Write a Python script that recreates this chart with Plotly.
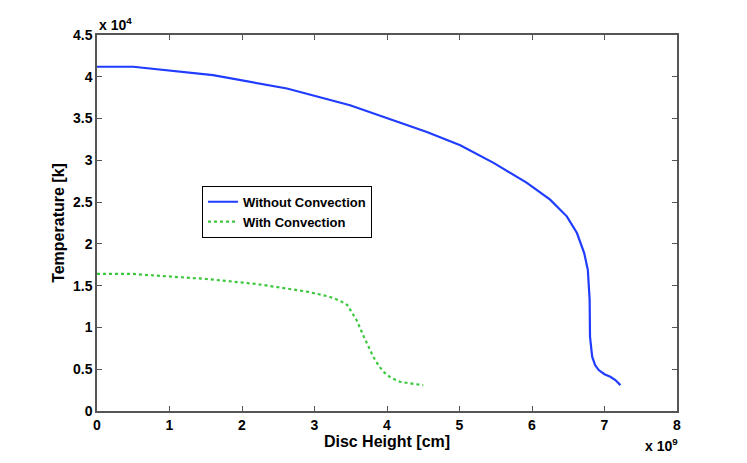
import plotly.graph_objects as go

# disc height in units of 1e9 cm, temperature in units of 1e4 K
height_no_conv = [0.0, 0.5, 1.6, 2.62, 3.49, 4.09, 4.55, 5.01, 5.47, 5.93, 6.25,
                  6.48, 6.62, 6.72, 6.77, 6.795, 6.80, 6.83, 6.87, 6.92, 7.0, 7.08, 7.15, 7.22]
temp_no_conv = [4.12, 4.12, 4.02, 3.86, 3.66, 3.48, 3.34, 3.18, 2.97, 2.73, 2.53,
                2.33, 2.13, 1.89, 1.69, 1.33, 0.89, 0.65, 0.55, 0.49, 0.44, 0.41, 0.37, 0.31]

height_conv = [0.0, 0.5, 0.82, 1.51, 2.20, 2.89, 3.2, 3.35, 3.45, 3.52, 3.58, 3.68, 3.81,
               3.88, 3.95, 4.05, 4.18, 4.32, 4.50]
temp_conv = [1.64, 1.64, 1.62, 1.58, 1.52, 1.43, 1.37, 1.32, 1.27, 1.18, 1.09, 0.89, 0.65,
             0.55, 0.47, 0.40, 0.35, 0.33, 0.31]

x_ticks = [0, 1, 2, 3, 4, 5, 6, 7, 8]
y_ticks = [0, 0.5, 1, 1.5, 2, 2.5, 3, 3.5, 4, 4.5]
y_labels = ["0", "0.5", "1", "1.5", "2", "2.5", "3", "3.5", "4", "4.5"]

font_bold = dict(family="Liberation Sans, Arial, sans-serif", size=14, color="black", weight="bold")

fig = go.Figure()
fig.add_trace(go.Scatter(x=height_no_conv, y=temp_no_conv, mode="lines", name="Without Convection",
                         line=dict(color="#1f3cff", width=2.2)))
fig.add_trace(go.Scatter(x=height_conv, y=temp_conv, mode="lines", name="With Convection",
                         line=dict(color="#3cc83c", width=2.2, dash="dot")))

axis_common = dict(showline=True, linecolor="#555", linewidth=1.5, mirror="allticks",
                   ticks="inside", ticklen=5, tickcolor="#555", showgrid=False, zeroline=False,
                   tickfont=font_bold, automargin=False)

fig.update_xaxes(range=[0, 8], tickvals=x_ticks,
                 title=dict(text="Disc Height [cm]", font=dict(font_bold, size=16), standoff=0),
                 **axis_common)
fig.update_yaxes(range=[0, 4.5], tickvals=y_ticks, ticktext=y_labels,
                 title=dict(text="Temperature [k]", font=dict(font_bold, size=16), standoff=4),
                 **axis_common)

fig.add_annotation(text="x 10<sup>4</sup>", xref="paper", yref="paper", x=0, y=1,
                   xanchor="left", yanchor="bottom", showarrow=False, font=dict(font_bold, size=14))
fig.add_annotation(text="x 10<sup>9</sup>", xref="paper", yref="paper", x=1.005, y=-0.09,
                   xanchor="right", yanchor="middle", showarrow=False, font=dict(font_bold, size=14))

# page body has an 8px margin, so the figure is shrunk by that much
fig.update_layout(width=739, height=455, margin=dict(l=89, r=70, t=27, b=52),
                  plot_bgcolor="white", paper_bgcolor="white", font=font_bold,
                  legend=dict(x=0.181, y=0.599, xanchor="left", yanchor="top",
                              bordercolor="black", borderwidth=1, bgcolor="white",
                              font=dict(font_bold, size=13), tracegroupgap=0))

fig.write_html("out.html")
